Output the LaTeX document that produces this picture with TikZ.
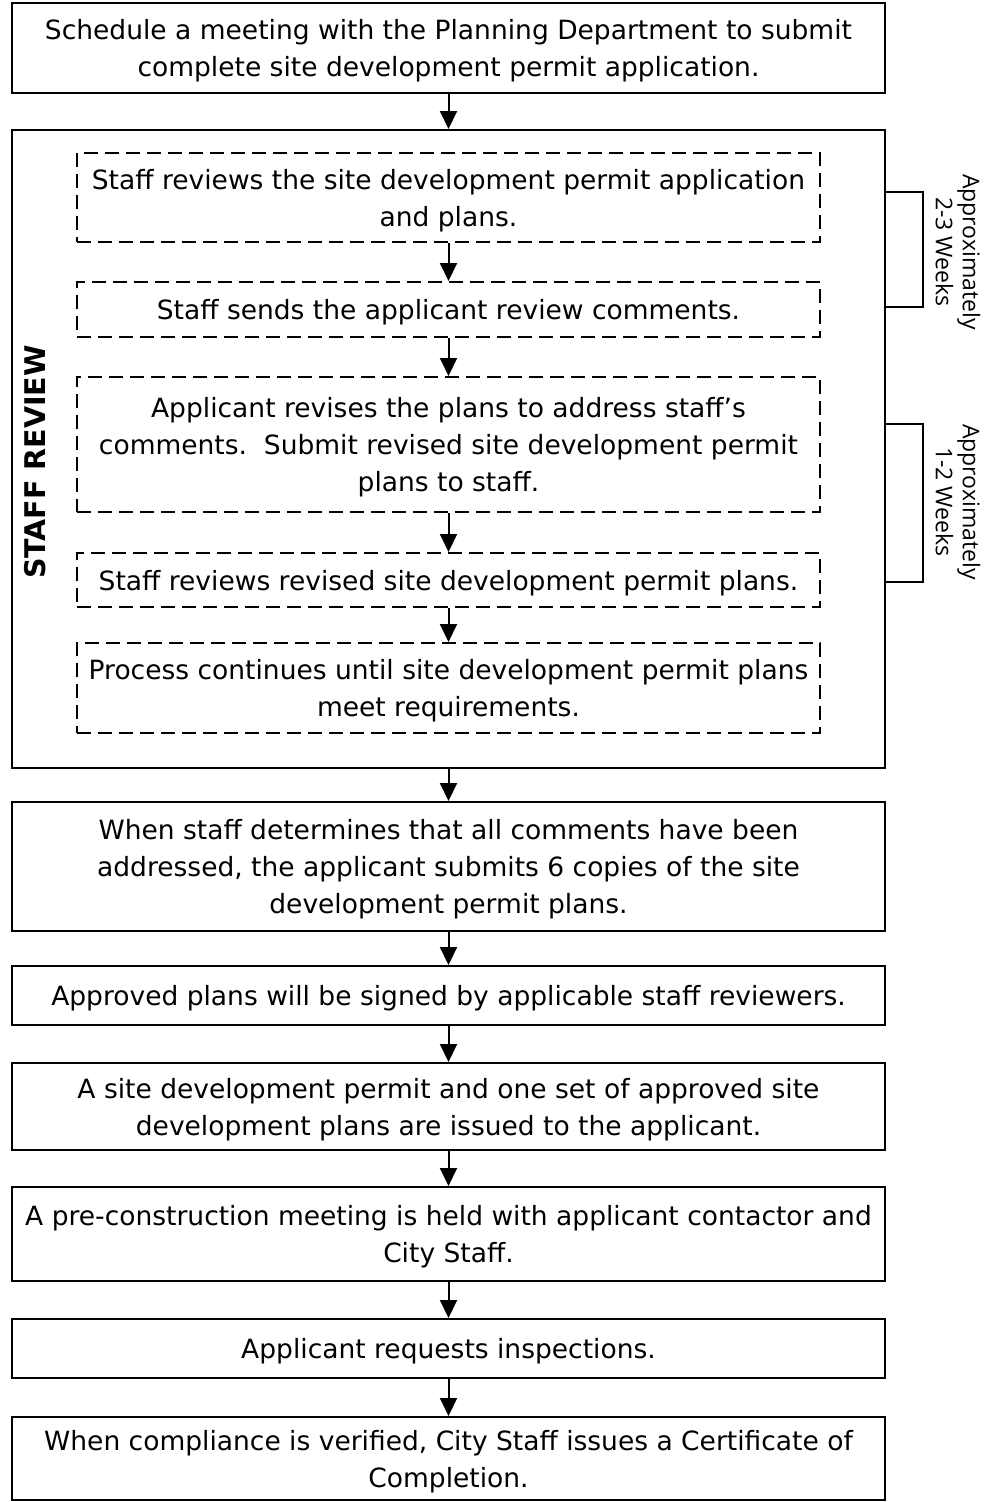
\documentclass[tikz,border=0pt]{standalone}
\usepackage{fontspec}
\setmainfont{DejaVu Sans}
\newfontfamily\brfont{Open Sans}
\usetikzlibrary{arrows.meta}
\newcommand{\mainsz}{\fontsize{26.5}{37}\selectfont}
\tikzset{
  solidbox/.style={draw, line width=2pt, minimum width=873pt, align=center, inner sep=0pt, text depth=0pt, font=\mainsz},
  dashbox/.style={draw, line width=2pt, dash pattern=on 14pt off 7pt, minimum width=743pt, align=center, inner sep=0pt, text depth=0pt, font=\mainsz},
  arr/.style={line width=2pt, -{Triangle[width=17pt,length=18pt]}},
  bracket/.style={line width=1.6pt},
  brtext/.style={rotate=-90, align=center, font=\brfont\fontsize{23}{27}\selectfont, inner sep=0pt},
}
\begin{document}
\begin{tikzpicture}[x=1pt,y=-1pt]
\useasboundingbox (0,0) rectangle (985,1502);
\node[solidbox, minimum height=90pt] (b1) at (448.5,48) {Schedule a meeting with the Planning Department to submit\\complete site development permit application.};
\node[solidbox, minimum height=638pt] (review) at (448.5,449) {};
\node[dashbox, minimum height=89pt] (d1) at (448.5,197.5) {Staff reviews the site development permit application\\and plans.};
\node[dashbox, minimum height=55pt] (d2) at (448.5,309.5) {Staff sends the applicant review comments.};
\node[dashbox, minimum height=135pt] (d3) at (448.5,444.5) {Applicant revises the plans to address staff’s\\comments.\ \ Submit revised site development permit\\plans to staff.};
\node[dashbox, minimum height=54pt] (d4) at (448.5,580) {Staff reviews revised site development permit plans.};
\node[dashbox, minimum height=90pt] (d5) at (448.5,688) {Process continues until site development permit plans\\meet requirements.};
\node[solidbox, minimum height=129pt] (b6) at (448.5,866.5) {When staff determines that all comments have been\\addressed, the applicant submits 6 copies of the site\\development permit plans.};
\node[solidbox, minimum height=59pt] (b7) at (448.5,995.5) {Approved plans will be signed by applicable staff reviewers.};
\node[solidbox, minimum height=87pt] (b8) at (448.5,1106.5) {A site development permit and one set of approved site\\development plans are issued to the applicant.};
\node[solidbox, minimum height=94pt] (b9) at (448.5,1234) {A pre-construction meeting is held with applicant contactor and\\City Staff.};
\node[solidbox, minimum height=59pt] (b10) at (448.5,1348.5) {Applicant requests inspections.};
\node[solidbox, minimum height=83pt] (b11) at (448.5,1458.5) {When compliance is verified, City Staff issues a Certificate of\\Completion.};
\node[rotate=90, font=\bfseries\fontsize{28.5}{34}\selectfont, inner sep=0pt] (lbl) at (35,462) {STAFF REVIEW};
\draw[arr] (b1.south) -- (review.north);
\draw[arr] (d1.south) -- (d2.north);
\draw[arr] (d2.south) -- (d3.north);
\draw[arr] (d3.south) -- (d4.north);
\draw[arr] (d4.south) -- (d5.north);
\draw[arr] (review.south) -- (b6.north);
\draw[arr] (b6.south) -- (b7.north);
\draw[arr] (b7.south) -- (b8.north);
\draw[arr] (b8.south) -- (b9.north);
\draw[arr] (b9.south) -- (b10.north);
\draw[arr] (b10.south) -- (b11.north);
\coordinate (r1a) at (885,192);
\coordinate (r1b) at (885,307);
\coordinate (r2a) at (885,424);
\coordinate (r2b) at (885,582);
\draw[bracket] (r1a) -- (923,192) -- (923,307) -- (r1b);
\draw[bracket] (r2a) -- (923,424) -- (923,582) -- (r2b);
\node[brtext] (t1) at (958,252) {Approximately\\2-3 Weeks};
\node[brtext] (t2) at (958,502) {Approximately\\1-2 Weeks};
\end{tikzpicture}
\end{document}
